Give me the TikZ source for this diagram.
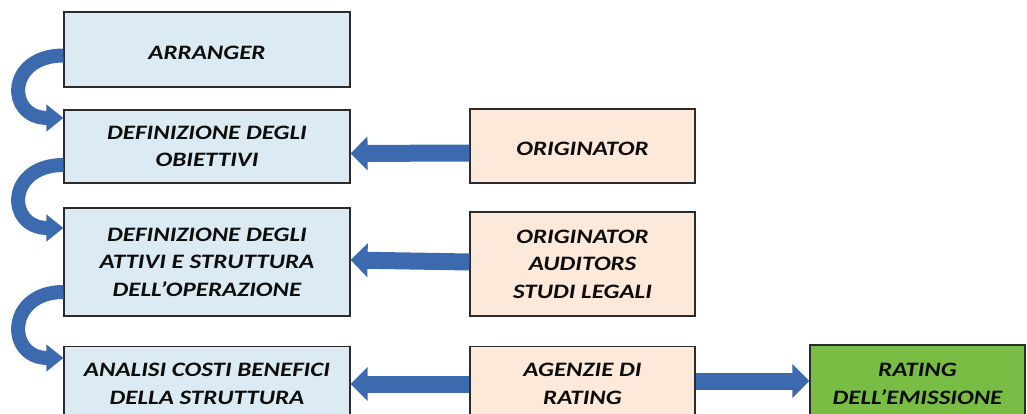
\documentclass[tikz,border=0pt]{standalone}
\usepackage{fontspec}
\setmainfont{Carlito}[FakeStretch=1.22]
\usetikzlibrary{arrows.meta}
\definecolor{boxblue}{HTML}{DCEBF3}
\definecolor{boxorange}{HTML}{FDE9D9}
\definecolor{boxgreen}{HTML}{79BD44}
\definecolor{boxline}{HTML}{2B2B2B}
\definecolor{arrowblue}{HTML}{3C6AAE}
% taller first line: sets the text block a little lower in its box
\newcommand\lowerstrut{\rule{0pt}{20pt}}
\begin{document}
\begin{tikzpicture}[x=1pt,y=-1pt,
  box/.style={draw=boxline, line width=1.1pt, align=center, inner sep=0pt,
    text=black!95, font=\bfseries\itshape\fontsize{20.5}{27.5}\selectfont,
    execute at begin node=\lowerstrut},
  bluebox/.style={box, fill=boxblue, minimum width=286pt},
  orangebox/.style={box, fill=boxorange, minimum width=225pt},
  greenbox/.style={box, fill=boxgreen, minimum width=215pt},
  flow/.style={draw=arrowblue, line width=17pt, -{Triangle[length=17pt,width=33pt]}},
  loopback/.style={draw=arrowblue, line width=14pt, -{Triangle[length=17pt,width=26pt]}},
]
\useasboundingbox (0,0) rectangle (1027,414);
\clip (0,0) rectangle (1027,414);

% main sequence of steps
\node[bluebox, minimum height=75pt] (b1) at (207,49.5) {ARRANGER};
\node[bluebox, minimum height=73pt] (b2) at (207,146.5) {DEFINIZIONE DEGLI\\OBIETTIVI};
\node[bluebox, minimum height=108pt] (b3) at (207,262) {DEFINIZIONE DEGLI\\ATTIVI E STRUTTURA\\DELL'OPERAZIONE};
\node[bluebox, minimum height=75pt] (b4) at (207,384) {ANALISI COSTI BENEFICI\\DELLA STRUTTURA};

% parties involved
\node[orangebox, minimum height=74pt] (o1) at (582.5,146) {ORIGINATOR};
\node[orangebox, minimum height=104pt] (o2) at (582.5,264) {ORIGINATOR\\AUDITORS\\STUDI LEGALI};
\node[orangebox, minimum height=75pt] (o3) at (582.5,384) {AGENZIE DI\\RATING};

% outcome
\node[greenbox, minimum height=78pt] (g) at (917.5,384) {RATING\\DELL'EMISSIONE};

% curved links between consecutive steps
\draw[loopback] ([yshift=-6pt]b1.west) .. controls (6,55.5) and (6,118) .. ([yshift=28.5pt]b2.west);
\draw[loopback] ([yshift=-18.5pt]b2.west) .. controls (6,165) and (6,228) .. ([yshift=34pt]b3.west);
\draw[loopback] ([yshift=-30pt]b3.west) .. controls (6,292) and (6,358) .. ([yshift=26pt]b4.west);

% contributions of each party
\draw[flow] ([yshift=-7pt]o1.west) -- ([yshift=-7pt]b2.east);
\draw[flow] ([yshift=2pt]o2.west) -- ([yshift=2pt]b3.east);
\draw[flow] (o3.west) -- (b4.east);
\draw[flow] ([yshift=3pt]o3.east) -- ([yshift=3pt]g.west);
\end{tikzpicture}
\end{document}
